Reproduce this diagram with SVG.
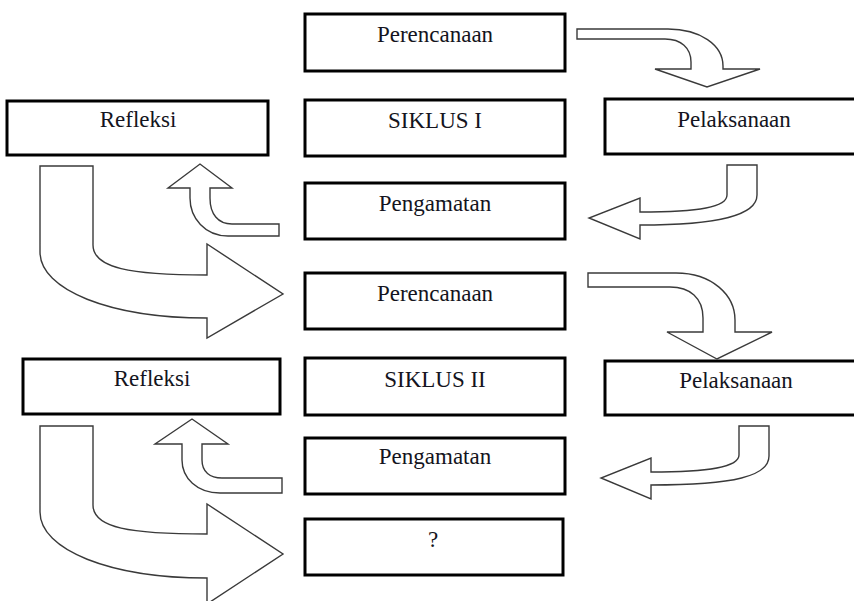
<svg xmlns="http://www.w3.org/2000/svg" width="854" height="601" viewBox="0 0 854 601">
  <style>
    .box rect { fill: #ffffff; stroke: #000000; stroke-width: 3; }
    .box text { font-family: "Liberation Serif", "Times New Roman", serif; font-size: 23px; fill: #141420; text-anchor: middle; }
    .arrow { fill: #ffffff; stroke: #3a3a3a; stroke-width: 1.4; stroke-linejoin: miter; }
  </style>
  <rect x="0" y="0" width="854" height="601" fill="#ffffff"/>

  <!-- cycle I -->
  <g id="perencanaan-1" class="box">
    <rect x="305" y="14" width="260" height="57"/>
    <text x="435" y="42">Perencanaan</text>
  </g>
  <g id="siklus-1" class="box">
    <rect x="305" y="100" width="260" height="56"/>
    <text x="435" y="128">SIKLUS I</text>
  </g>
  <g id="pengamatan-1" class="box">
    <rect x="305" y="183" width="260" height="56"/>
    <text x="435" y="211">Pengamatan</text>
  </g>
  <g id="refleksi-1" class="box">
    <rect x="7" y="101" width="261" height="54"/>
    <text x="138" y="127">Refleksi</text>
  </g>
  <g id="pelaksanaan-1" class="box">
    <rect x="605" y="99" width="260" height="55"/>
    <text x="734" y="127">Pelaksanaan</text>
  </g>

  <!-- cycle II -->
  <g id="perencanaan-2" class="box">
    <rect x="305" y="273" width="260" height="56"/>
    <text x="435" y="301">Perencanaan</text>
  </g>
  <g id="siklus-2" class="box">
    <rect x="305" y="358" width="260" height="57"/>
    <text x="435" y="387">SIKLUS II</text>
  </g>
  <g id="pengamatan-2" class="box">
    <rect x="305" y="438" width="260" height="56"/>
    <text x="435" y="464">Pengamatan</text>
  </g>
  <g id="refleksi-2" class="box">
    <rect x="23" y="359" width="257" height="55"/>
    <text x="152" y="386">Refleksi</text>
  </g>
  <g id="pelaksanaan-2" class="box">
    <rect x="605" y="361" width="260" height="54"/>
    <text x="736" y="388">Pelaksanaan</text>
  </g>

  <g id="next" class="box">
    <rect x="305" y="519" width="258" height="56"/>
    <text x="433" y="547">?</text>
  </g>

  <!-- block arrows -->
  <g id="connectors">
    <path class="arrow" d="M577,29 L668,29 C700,29 723,45 723,66 L723,69 L760,69 L707,87 L655,69 L691,69 L691,62 C691,48 681,39 665,39 L577,39 Z"/>
    <path class="arrow" d="M727,165 L757,165 L757,195 C757,215 720,225 640,225 L640,239 L589,218 L640,198 L640,212 C700,212 727,207 727,195 Z"/>
    <path class="arrow" d="M279,224 L279,236 L228,236 C205,236 190,218 190,198 L190,188 L168,188 L200,164 L232,188 L210,188 L210,198 C210,214 218,224 232,224 Z"/>
    <path class="arrow" d="M40,166 L93,166 L93,245 C93,268 130,275 207,275 L207,244 L283,294 L207,338 L207,318 C110,318 40,290 40,252 Z"/>

    <path class="arrow" d="M588,273 L676,273 C712,273 735,295 735,320 L735,332 L772,332 L717,359 L667,332 L703,332 L703,318 C703,298 690,287 670,287 L588,287 Z"/>
    <path class="arrow" d="M739,426 L769,426 L769,456 C769,476 735,485 651,485 L651,499 L601,478 L651,458 L651,472 C710,472 739,467 739,455 Z"/>
    <path class="arrow" d="M282,478 L282,493 L220,493 C197,493 182,478 182,460 L182,444 L155,444 L192,419 L228,444 L202,444 L202,460 C202,472 210,478 222,478 Z"/>
    <path class="arrow" d="M40,426 L93,426 L93,505 C93,528 130,534 207,534 L207,504 L283,554 L207,604 L207,578 C110,578 40,550 40,512 Z"/>
  </g>
</svg>
